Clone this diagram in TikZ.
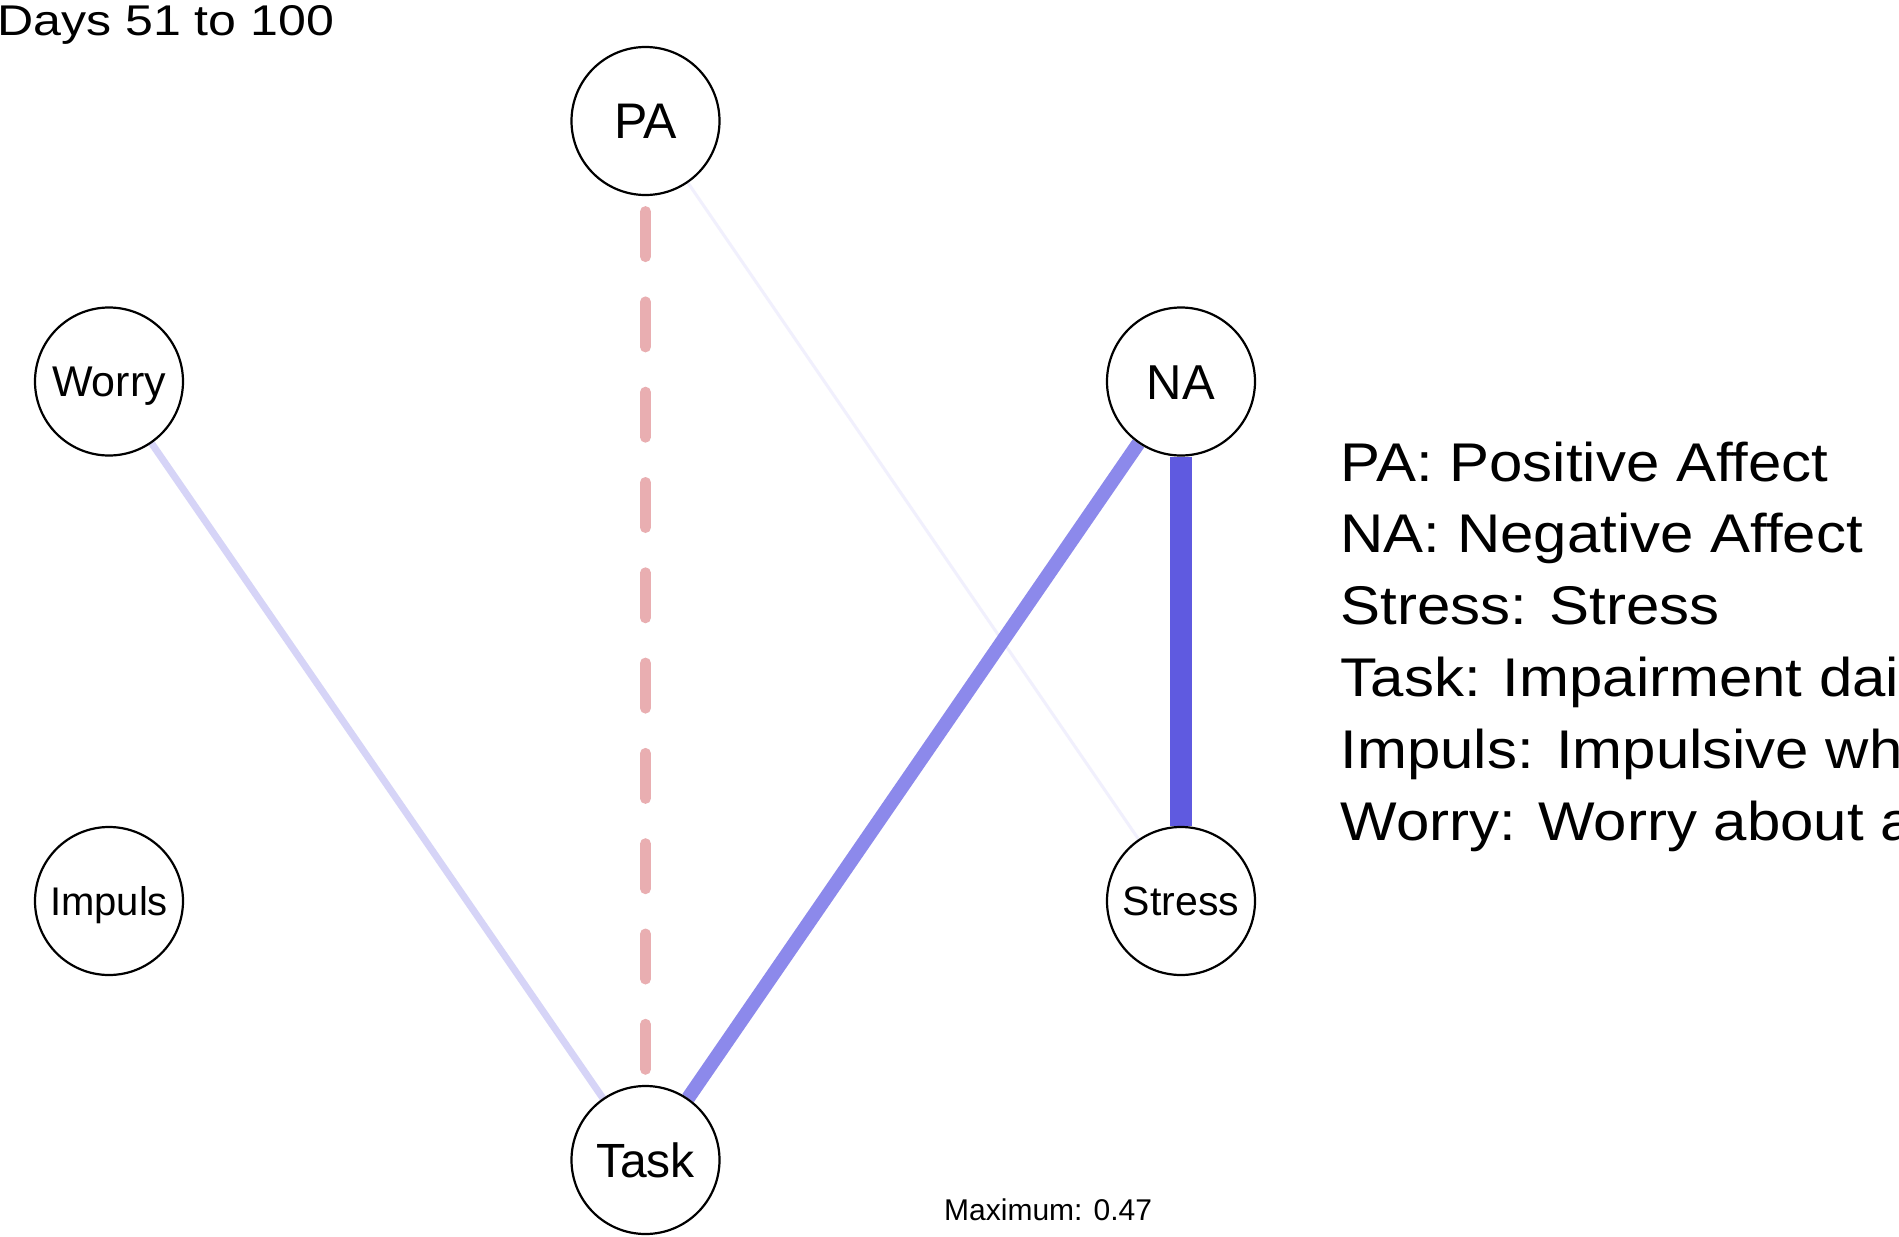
\documentclass[tikz,border=0pt]{standalone}
\usepackage{fontspec}
\setmainfont{Liberation Sans}
\pgfdeclarelayer{bottom}
\pgfdeclarelayer{edges}
\pgfsetlayers{bottom,edges,main}
\newcommand\capbox[1]{\raisebox{0pt}[0.716em][0pt]{#1}}
\newcommand\legtext[1]{\scalebox{1.1}[1]{\fontsize{54.5}{54.5}\selectfont #1}}
\definecolor{negedge}{RGB}{233,174,177}
\definecolor{faintedge}{RGB}{241,240,253}
\definecolor{lightedge}{RGB}{214,212,247}
\definecolor{midedge}{RGB}{140,137,235}
\definecolor{strongedge}{RGB}{95,90,224}
\begin{document}
\begin{tikzpicture}[x=1pt,y=-1pt,
  vnode/.style={circle,draw=black,line width=2.2pt,fill=white,minimum size=148pt,inner sep=0pt},
  legline/.style={anchor=base west,inner sep=0pt},
  plain/.style={anchor=base west,inner sep=0pt},
  wedge/.style={line cap=butt}]
\useasboundingbox (0,0) rectangle (1899,1237);
\begin{pgfonlayer}{bottom}
\fill[white] (0,0) rectangle (1899,1237);
\end{pgfonlayer}
\clip (0,0) rectangle (1899,1237);
% nodes
\node[vnode,font=\fontsize{50}{50}\selectfont] (PA) at (645.5,121) {\capbox{PA}};
\node[vnode,font=\fontsize{49}{49}\selectfont] (NA) at (1181,381.5) {\capbox{NA}};
\node[vnode,font=\fontsize{41}{41}\selectfont] (Stress) at (1181,901) {\capbox{Stress}};
\node[vnode,font=\fontsize{48}{48}\selectfont] (Task) at (645.5,1160) {\capbox{Task}};
\node[vnode,font=\fontsize{40}{40}\selectfont] (Impuls) at (109,901) {\capbox{Impuls}};
\node[vnode,font=\fontsize{43}{43}\selectfont] (Worry) at (109,381.5) {\capbox{Worry}};
% edges
\begin{pgfonlayer}{edges}
\draw[wedge,line width=3pt,color=faintedge] (PA) -- (Stress);
\draw[wedge,line width=7pt,color=lightedge] (Worry) -- (Task);
\draw[line width=11pt,color=negedge,line cap=round,dash pattern=on 45pt off 45.3pt,dash phase=74.8pt] (PA) -- (Task);
\draw[wedge,line width=14pt,color=midedge] (NA) -- (Task);
\draw[wedge,line width=22pt,color=strongedge] (NA) -- (Stress);
\end{pgfonlayer}
% texts
\node[plain] (title) at (-3,35) {\scalebox{1.165}[1]{\fontsize{43}{43}\selectfont Days 51 to 100}};
\node[legline] (l1) at (1340.5,481) {\legtext{PA: Positive Affect}};
\node[legline] (l2) at (1340.5,552.8) {\legtext{NA: Negative Affect}};
\node[legline] (l3) at (1340.5,624.6) {\legtext{Stress: Stress}};
\node[legline] (l4) at (1340.5,696.4) {\legtext{Task: Impairment dai}};
\node[legline] (l5) at (1340.5,768.2) {\legtext{Impuls: Impulsive wh}};
\node[legline] (l6) at (1340.5,840) {\legtext{Worry: Worry about a}};
\node[plain,font=\fontsize{30}{30}\selectfont] (maxlab) at (944,1220) {Maximum: 0.47};
\end{tikzpicture}
\end{document}
